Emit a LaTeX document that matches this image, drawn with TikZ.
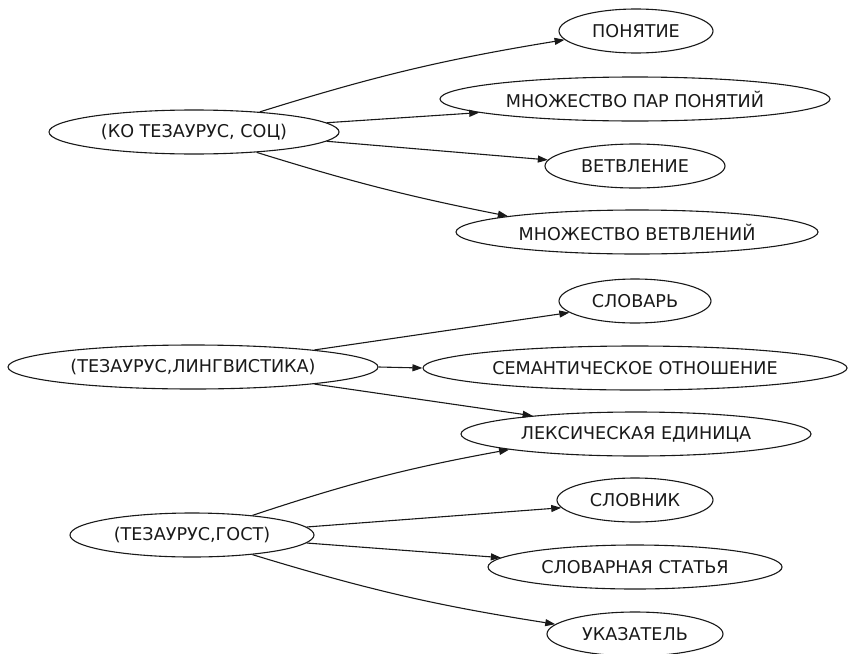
\documentclass[tikz,border=0pt]{standalone}
\usepackage{fontspec}
\setmainfont{DejaVu Sans}
\usetikzlibrary{shapes.geometric,arrows.meta}
\begin{document}
\begin{tikzpicture}[x=1pt,y=-1pt,
  concept/.style={ellipse,draw=black!90,line width=1.1pt,inner sep=0pt,
    minimum height=44pt,text=black!90,font=\fontsize{17.6}{20}\selectfont},
  link/.style={draw=black!90,line width=1.1pt,
    -{Triangle[length=10pt,width=7pt]}}]
\useasboundingbox (0,0) rectangle (848,653);
% top group
\node[concept,minimum width=290pt] (ko) at (194,132) {(КО ТЕЗАУРУС, СОЦ)};
\node[concept,minimum width=154pt] (pon) at (636,31) {ПОНЯТИЕ};
\node[concept,minimum width=390pt] (mpp) at (635,99) {МНОЖЕСТВО ПАР ПОНЯТИЙ};
\node[concept,minimum width=180pt] (vet) at (635,166) {ВЕТВЛЕНИЕ};
\node[concept,minimum width=362pt] (mvet) at (637,232) {МНОЖЕСТВО ВЕТВЛЕНИЙ};
% middle group
\node[concept,minimum width=370pt] (ling) at (193,367) {(ТЕЗАУРУС,ЛИНГВИСТИКА)};
\node[concept,minimum width=152pt] (slov) at (635,301) {СЛОВАРЬ};
\node[concept,minimum width=424pt] (sem) at (635,368) {СЕМАНТИЧЕСКОЕ ОТНОШЕНИЕ};
\node[concept,minimum width=350pt] (lex) at (636,434) {ЛЕКСИЧЕСКАЯ ЕДИНИЦА};
% bottom group
\node[concept,minimum width=244pt] (gost) at (192,535) {(ТЕЗАУРУС,ГОСТ)};
\node[concept,minimum width=156pt] (slovnik) at (635,500) {СЛОВНИК};
\node[concept,minimum width=294pt] (sst) at (635,567) {СЛОВАРНАЯ СТАТЬЯ};
\node[concept,minimum width=176pt] (ukaz) at (635,634) {УКАЗАТЕЛЬ};
% edges
\draw[link] (ko.17) to[bend left=4] (pon.187);
\draw[link] (ko.4) -- (mpp.185);
\draw[link] (ko.-4.6) -- (vet.176.7);
\draw[link] (ko.-18) to[bend right=3] (mvet.173);
\draw[link] (ling.8.7) -- (slov.190);
\draw[link] (ling.east) -- (sem.west);
\draw[link] (ling.-8.3) -- (lex.170.7);
\draw[link] (gost.18) to[bend left=4] (lex.187.4);
\draw[link] (gost.4.4) -- (slovnik.186);
\draw[link] (gost.-4.4) -- (sst.176);
\draw[link] (gost.-18) to[bend right=4] (ukaz.173.4);
\end{tikzpicture}
\end{document}
